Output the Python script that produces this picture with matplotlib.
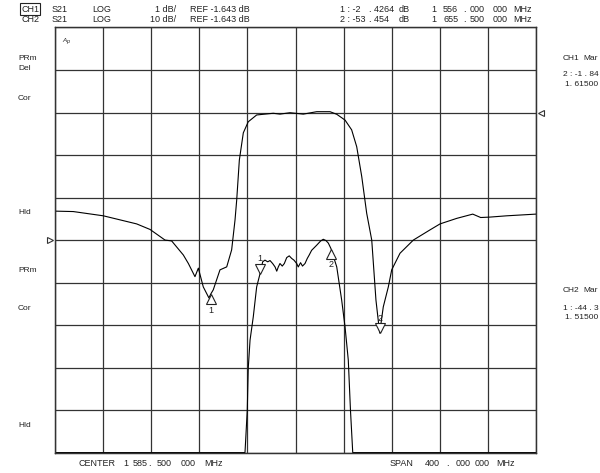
import numpy as np
import matplotlib
matplotlib.use("Agg")
import matplotlib.pyplot as plt
from matplotlib.transforms import offset_copy

# analyzer settings
center_mhz = 1585.5
span_mhz = 400.0
ref_db = -1.643
ch1_scale = 1.0   # dB/div
ch2_scale = 10.0  # dB/div

# CH2 trace (10 dB/div)
ch2_freq = [1385.5, 1400.7, 1425.7, 1453.4, 1464.5, 1477.0, 1482.5, 1492.2, 1496.4,
            1501.9, 1504.7, 1508.8, 1513.5, 1515.0, 1517.1, 1522.7, 1528.3, 1532.4,
            1535.2, 1536.6, 1538.8, 1542.1, 1546.2, 1553.2, 1567.0, 1572.6, 1580.9,
            1592.0, 1603.1, 1614.2, 1619.8, 1626.7, 1632.2, 1636.4, 1640.6, 1644.7,
            1648.9, 1652.4, 1655.5, 1658.5, 1662.7, 1665.5, 1672.4, 1683.5, 1697.4,
            1705.7, 1719.6, 1732.9, 1739.5, 1747.2, 1761.1, 1785.5]
ch2_db = [-24.8, -24.9, -25.9, -27.8, -29.1, -31.6, -31.8, -35.1, -37.1,
          -40.2, -38.2, -42.6, -45.2, -44.3, -43.3, -38.6, -37.9, -33.9,
          -26.9, -22.2, -12.8, -6.4, -3.8, -2.2, -1.8, -2.0, -1.67,
          -2.0, -1.43, -1.43, -2.04, -3.4, -5.7, -9.66, -16.7, -25.3,
          -31.6, -45.7, -53.45, -47.3, -42.6, -38.6, -34.7, -31.6, -29.2,
          -27.8, -26.5, -25.5, -26.3, -26.2, -25.9, -25.5]

# CH1 trace (1 dB/div), passband zoom; out-of-band values fall below the screen
ch1_freq = [1385.5, 1536.6, 1543.5, 1545.4, 1546.2, 1547.7, 1550.4, 1553.2, 1556.0,
            1558.2, 1560.1, 1562.4, 1564.3, 1566.5, 1568.5, 1569.9, 1571.2, 1572.6,
            1574.5, 1576.2, 1578.2, 1580.3, 1582.3, 1584.2, 1586.5, 1587.8, 1589.7,
            1591.3, 1593.4, 1595.3, 1596.9, 1598.9, 1603.1, 1606.4, 1608.6, 1610.8,
            1612.8, 1615.0, 1619.8, 1623.9, 1626.7, 1629.4, 1631.2, 1633.1, 1640.6,
            1785.5]
ch1_db = [-24.8, -22.2, -6.7, -5.63, -4.65, -3.99, -3.44, -2.74, -2.43,
          -2.15, -2.11, -2.15, -2.12, -2.19, -2.27, -2.37, -2.27, -2.19,
          -2.25, -2.19, -2.05, -2.01, -2.07, -2.11, -2.19, -2.27, -2.17,
          -2.25, -2.19, -2.07, -1.99, -1.88, -1.76, -1.66, -1.62, -1.65,
          -1.71, -1.84, -2.27, -3.05, -3.68, -4.46, -5.63, -6.7, -16.7,
          -25.5]

# markers: (freq, dB, label, pointing up)
ch1_markers = [(1556.0, -2.4264, "1", False), (1615.0, -1.84, "2", True)]
ch2_markers = [(1515.0, -44.3, "1", True), (1655.5, -53.454, "2", False)]

txt = dict(family="Liberation Sans", fontsize=6.5, color="#222222")

fig = plt.figure(figsize=(6.0, 4.73), dpi=100)
W, H = 600.0, 473.0
# grid box in screen pixels
x0, x1, y0, y1 = 55, 536, 27.5, 453
ax = fig.add_axes([x0 / W, 1 - y1 / H, (x1 - x0) / W, (y1 - y0) / H])
ax2 = ax.twinx()

fmin = center_mhz - span_mhz / 2
fmax = center_mhz + span_mhz / 2
ax.set_xlim(fmin, fmax)
ax.set_ylim(ref_db - 5 * ch1_scale, ref_db + 5 * ch1_scale)
ax2.set_ylim(ref_db - 8 * ch2_scale, ref_db + 2 * ch2_scale)

ax.set_xticks(np.linspace(fmin, fmax, 11))
ax.set_yticks(np.linspace(ref_db - 5, ref_db + 5, 11))
ax.grid(True, color="#333333", lw=0.9)
ax.tick_params(length=0, labelbottom=False, labelleft=False)
ax2.set_yticks([])
for a in (ax, ax2):
    for s in a.spines.values():
        s.set_color("#333333")
        s.set_linewidth(0.9)

# screen clips the trace at the edge of the grid
lo, hi = ax.get_ylim()
ax.plot(ch1_freq, np.clip(ch1_db, lo + 0.01, hi), color="black", lw=0.8)
ax2.plot(ch2_freq, ch2_db, color="black", lw=0.8)


def draw_marker(a, f, db, label, up):
    dy = -5 if up else 5
    tr = offset_copy(a.transData, fig=fig, x=0, y=dy, units="dots")
    a.plot([f], [db], marker="^" if up else "v", ms=7, mfc="white", mec="#222222",
           mew=0.8, transform=tr, clip_on=False, zorder=5)
    tr2 = offset_copy(a.transData, fig=fig, x=0, y=-16 if up else 15, units="dots")
    a.text(f, db, label, transform=tr2, ha="center", va="center", **txt)


for m in ch1_markers:
    draw_marker(ax, *m)
for m in ch2_markers:
    draw_marker(ax2, *m)

# reference level arrows
ax.plot([fmin], [ref_db], marker=">", ms=5, mfc="white", mec="#333333", mew=0.8,
        transform=offset_copy(ax.transData, fig=fig, x=-5, y=0, units="dots"), clip_on=False)
ax2.plot([fmax], [ref_db], marker="<", ms=5, mfc="white", mec="#333333", mew=0.8,
         transform=offset_copy(ax2.transData, fig=fig, x=5, y=0, units="dots"), clip_on=False)


def put(x, y, s, **kw):
    d = dict(txt)
    d.update(kw)
    fig.text(x / W, 1 - y / H, s, va="center", **d)


# header
put(21, 9, "CH1", bbox=dict(boxstyle="square,pad=0.15", fc="white", ec="#222222", lw=0.8))
put(21, 19, "CH2")
for y, scale in [(9, "1 dB/"), (19, "10 dB/")]:
    put(52, y, "S21")
    put(92, y, "LOG")
    put(176, y, scale, ha="right")
    put(190, y, "REF -1.643 dB")
put(340, 9, "1 : -2")
put(369, 9, ". 4264")
put(340, 19, "2 : -53")
put(369, 19, ". 454")
for y, a, b, c in [(9, "556", "000", "000"), (19, "655", "500", "000")]:
    put(399, y, "dB")
    put(431, y, "1")
    put(443, y, a)
    put(463, y, ".")
    put(470, y, b)
    put(493, y, c)
    put(513, y, "MHz")

# left softkey labels
for y, s in [(59, "PRm"), (69, "Del"), (98, "Cor"), (213, "Hld"),
             (270, "PRm"), (309, "Cor"), (425, "Hld")]:
    put(18, y, s, fontsize=6)
put(62, 40, "A", fontsize=4.5, style="italic")
put(66, 41.5, "p", fontsize=4, style="italic")

# right marker tables
rt = dict(fontsize=6)
put(563, 58, "CH1", **rt)
put(583, 58, "Mar", **rt)
put(563, 75, "2 : -1 . 84", **rt)
put(565, 84, "1. 61500", **rt)
put(563, 291, "CH2", **rt)
put(583, 291, "Mar", **rt)
put(563, 308, "1 : -44 . 3", **rt)
put(565, 317, "1. 51500", **rt)

# footer
for x, s in [(79, "CENTER"), (123, "1"), (133, "585"), (148, "."), (157, "500"),
             (181, "000"), (204, "MHz"), (390, "SPAN"), (425, "400"), (446, "."),
             (456, "000"), (475, "000"), (496, "MHz")]:
    put(x, 463, s)

fig.savefig("out.png", dpi=100, facecolor="white")
